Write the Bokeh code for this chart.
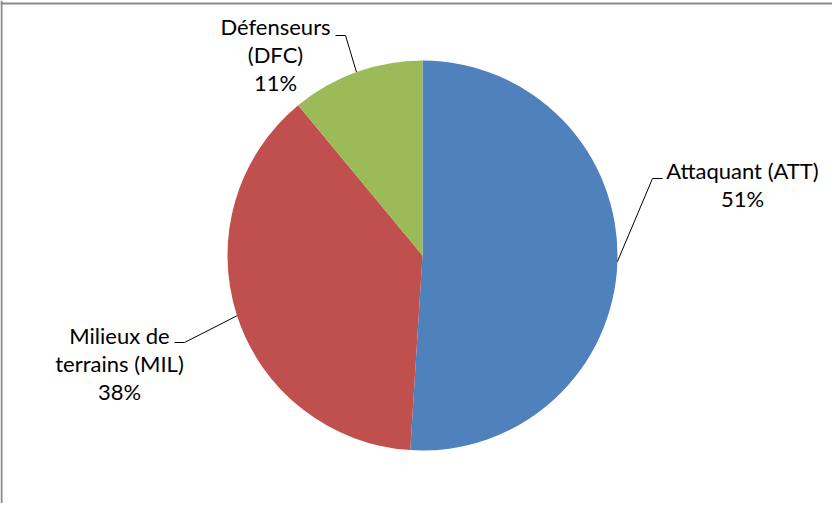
import math
from bokeh.plotting import figure
from bokeh.models import Range1d, Span, ColumnDataSource
from bokeh.core.properties import value
from bokeh.embed import file_html
from bokeh.resources import INLINE

# ---- data ----
categories = ["Attaquant (ATT)", "Milieux de\nterrains (MIL)", "Défenseurs\n(DFC)"]
percents = [51, 38, 11]
colors = ["#4F81BD", "#C0504D", "#9BBB59"]

# ---- style / layout (pixels) ----
W, H = 832, 503
CX, CY, R = 422, 248, 195           # pie centre & radius in plot pixels (y up)
# elbow of leader line, relative to pie centre (x right, y up)
elbow_rel = [(230, 77), (-238, -87), (-77, 220)]
# centre x / first baseline of label block, relative to pie centre
label_rel = [(320, 85), (-303, -80), (-147, 229)]
side = [1, -1, -1]                  # which side the label sits on
LINE_H = 28
FONT = value("Lato")
FONT_SIZE = "22px"

p = figure(width=W, height=H, output_backend="svg", toolbar_location=None,
           x_range=Range1d(0, W), y_range=Range1d(0, H),
           x_axis_type=None, y_axis_type=None, min_border=0)
p.grid.visible = False
p.outline_line_color = None
p.background_fill_color = "white"
p.border_fill_color = "white"

# chart-area border (left & top visible in window)
p.add_layout(Span(location=1, dimension="height", line_color="#898989", line_width=2))
p.add_layout(Span(location=H - 3, dimension="width", line_color="#898989", line_width=2))

total = float(sum(percents))
starts, ends, mids = [], [], []
a = math.pi / 2
for v in percents:
    sweep = 2 * math.pi * v / total
    starts.append(a)
    ends.append(a - sweep)
    mids.append(a - sweep / 2)
    a -= sweep

src = ColumnDataSource(dict(x=[CX] * 3, y=[CY] * 3, start=starts, end=ends, color=colors))
p.wedge(x="x", y="y", radius=R, start_angle="start", end_angle="end",
        direction="clock", fill_color="color", line_color=None, source=src)

# leader lines
lx, ly = [], []
for i, m in enumerate(mids):
    sx, sy = CX + R * math.cos(m), CY + R * math.sin(m)
    ex, ey = CX + elbow_rel[i][0], CY + elbow_rel[i][1]
    tx = ex + 10 * side[i]
    lx.append([sx, ex, tx])
    ly.append([sy, ey, ey])
p.multi_line(xs=lx, ys=ly, line_color="black", line_width=1)

# labels
tx, ty, tt = [], [], []
for i, (name, pct) in enumerate(zip(categories, percents)):
    lines = name.split("\n") + [f"{pct}%"]
    for j, ln in enumerate(lines):
        tx.append(CX + label_rel[i][0])
        ty.append(CY + label_rel[i][1] - j * LINE_H)
        tt.append(ln)
p.text(x=tx, y=ty, text=tt, text_font=FONT, text_font_size=FONT_SIZE,
       text_align="center", text_baseline="alphabetic", text_color="black")

open("out.html", "w").write(file_html(p, INLINE))
